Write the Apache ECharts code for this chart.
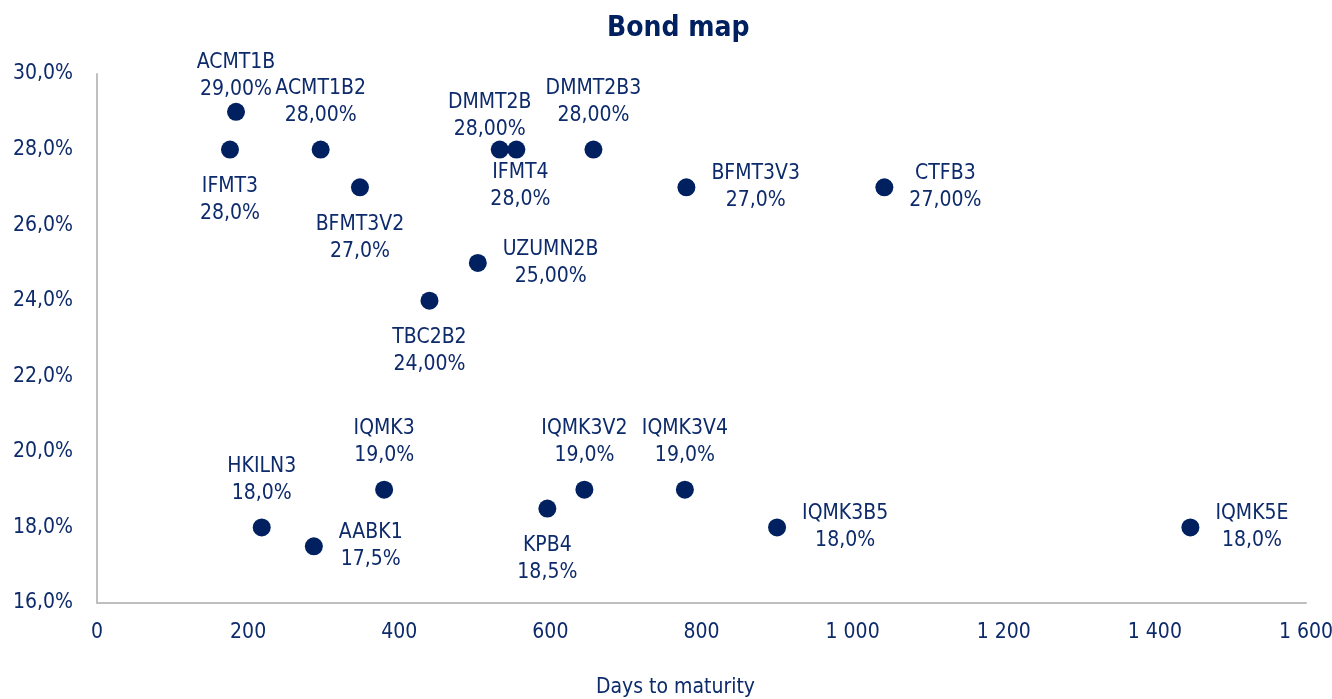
<!DOCTYPE html>
<html><head><meta charset="utf-8">
<script src="https://cdn.jsdelivr.net/npm/echarts@6/dist/echarts.min.js"></script>
<style>html,body{margin:0;padding:0;background:#fff}#c{width:1332px;height:699px}</style>
</head><body><div id="c"></div>
<script>
const names = ['ACMT1B','IFMT3','ACMT1B2','BFMT3V2','DMMT2B','IFMT4','DMMT2B3','BFMT3V3','CTFB3','UZUMN2B','TBC2B2','IQMK3','HKILN3','AABK1','KPB4','IQMK3V2','IQMK3V4','IQMK3B5','IQMK5E'];
const days = [184,176,296,348,533,555,657,780,1042,504,440,380,218,287,596,645,778,900,1447];
const yields = [29,28,28,27,28,28,28,27,27,25,24,19,18,17.5,18.5,19,19,18,18];
const valueText = ['29,00%','28,0%','28,00%','27,0%','28,00%','28,0%','28,00%','27,0%','27,00%','25,00%','24,00%','19,0%','18,0%','17,5%','18,5%','19,0%','19,0%','18,0%','18,0%'];
const xTicks = [0,200,400,600,800,1000,1200,1400,1600];
const yTicks = [16,18,20,22,24,26,28,30];

// label placement (layout, not data)
const labelSide = ['top','bottom','top','bottom','top','bottom','top','right','right','right','bottom','top','top','right','bottom','top','top','right','right'];
const labelNudge = {0:[0,12], 4:[-10,14], 5:[4,-14]};

const navy = '#002060';
const txt = '#0d2a6b';
const font = '"DejaVu Sans Condensed","Liberation Sans Narrow","Arial Narrow",sans-serif';
const fs = 21;

const data = days.map((d,i)=>{
  const side = labelSide[i];
  const dist = side==='top'?11.5:(side==='bottom'?14.5:16);
  const lab = {position: side, distance: dist};
  if (labelNudge[i]) lab.offset = labelNudge[i];
  return {value:[d,yields[i]], name:names[i], label:lab};
});

const chart = echarts.init(document.getElementById('c'));
chart.setOption({
  animation:false,
  title:{text:'Bond map', left:602, top:10, textStyle:{fontFamily:font, fontWeight:'bold', fontSize:28, color:navy}},
  grid:{left:97, right:26, top:74, bottom:96, containLabel:false, outerBoundsMode:'none'},
  xAxis:{type:'value', min:0, max:1600, interval:200,
    axisLine:{show:true, lineStyle:{color:'#bfbfbf', width:2}}, axisTick:{show:false}, splitLine:{show:false},
    axisLabel:{margin:19, color:txt, fontFamily:font, fontSize:fs,
      formatter:v=>String(v).replace(/\B(?=(\d{3})+(?!\d))/g,' ')},
    name:'Days to maturity', nameLocation:'middle', nameGap:74,
    nameTextStyle:{color:txt, fontFamily:font, fontSize:fs, padding:[0,52,0,0]}},
  yAxis:{type:'value', min:16, max:30, interval:2,
    axisLine:{show:true, lineStyle:{color:'#bfbfbf', width:2}}, axisTick:{show:false}, splitLine:{show:false},
    axisLabel:{margin:24, color:txt, fontFamily:font, fontSize:fs,
      formatter:v=>v.toFixed(1).replace('.',',')+'%'}},
  series:[{type:'scatter', symbolSize:18, itemStyle:{color:navy, opacity:1}, data:data,
    label:{show:true, color:txt, fontFamily:font, fontSize:fs, lineHeight:27,
      formatter:p=>'{n|'+p.name+'}\n{n|'+valueText[p.dataIndex]+'}',
      rich:{n:{align:'center', color:txt, fontFamily:font, fontSize:fs, lineHeight:27}}},
    emphasis:{disabled:true}}]
});
</script></body></html>
